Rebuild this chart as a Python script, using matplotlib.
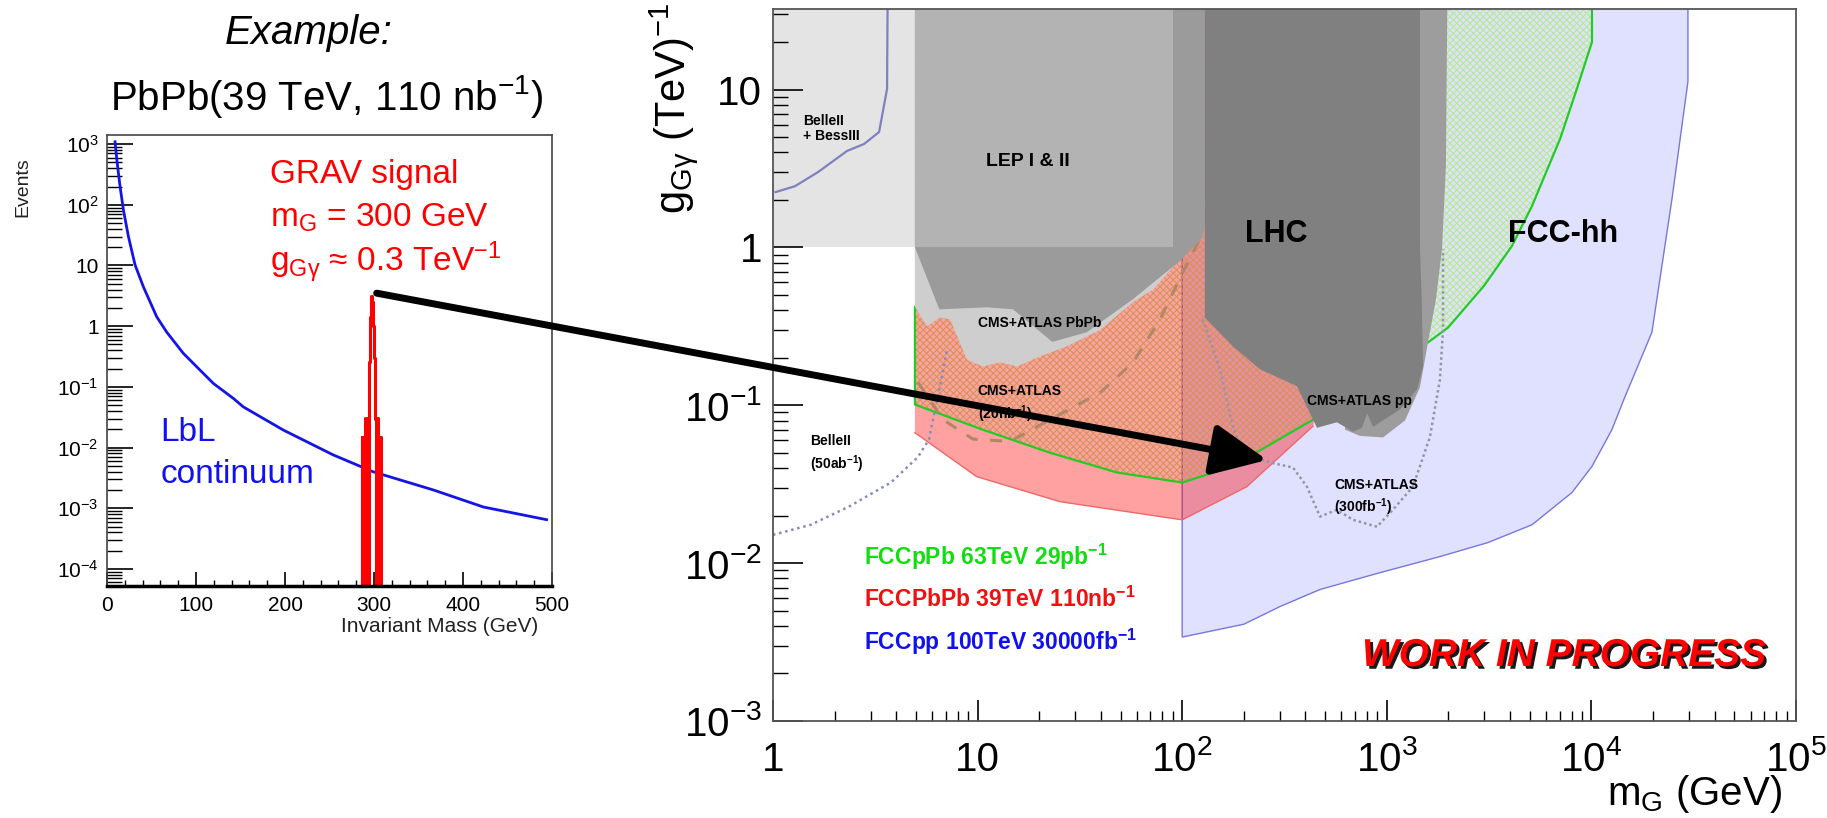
import matplotlib
matplotlib.use('Agg')
import matplotlib.pyplot as plt
import matplotlib.patheffects as pe
from matplotlib.patches import ConnectionPatch
from matplotlib.ticker import FixedLocator, LogLocator, MultipleLocator, NullFormatter

plt.rcParams['font.family'] = ['Liberation Sans', 'DejaVu Sans']
plt.rcParams['mathtext.fontset'] = 'custom'
plt.rcParams['mathtext.rm'] = 'Liberation Sans'
plt.rcParams['mathtext.it'] = 'Liberation Sans:italic'
plt.rcParams['mathtext.bf'] = 'Liberation Sans:bold'
plt.rcParams['hatch.linewidth'] = 0.7

# ---------------- left panel: PbPb 39 TeV example ----------------
lbl_mass = [9, 11, 14.6, 18.4, 24, 31.5, 40.8, 55.8, 67, 85.8, 104.5, 119.5, 142, 153,
            198, 254, 299, 367, 423, 494]
lbl_events = [1090, 545, 200, 82, 30, 10.2, 4.46, 1.43, 0.80, 0.356, 0.189, 0.114, 0.0645,
              0.047, 0.0195, 0.0076, 0.0040, 0.0020, 0.00105, 0.00065]

# graviton signal histogram (1 GeV bins, 1e-6 = empty bin)
sig_edges = [285, 286, 287, 288, 289, 290, 291, 292, 293, 294, 295, 296, 297, 298, 299,
             300, 301, 302, 303, 304, 305, 306, 307, 308, 309, 310]
sig_events = [1e-6, 0.015, 1e-6, 0.015, 1e-6, 0.031, 1e-6, 0.031, 1e-6, 0.26, 0.6, 1.4, 3.2,
              2.5, 1.0, 0.3, 0.03, 1e-6, 0.031, 1e-6, 0.015, 1e-6, 0.015, 1e-6, 1e-6, 1e-6]

left_yticks = [1e-4, 1e-3, 1e-2, 1e-1, 1, 10, 100, 1000]
left_ylabels = [r'$10^{-4}$', r'$10^{-3}$', r'$10^{-2}$', r'$10^{-1}$', '1', '10',
                r'$10^{2}$', r'$10^{3}$']

# ---------------- right panel: exclusion regions ----------------
TOP = 100  # polygons run past the frame and get clipped

belle_reg_x = [1, 4.94, 4.94, 1]
belle_reg_y = [1, 1, TOP, TOP]

lep_x = [4.94, 90, 90, 4.94]
lep_y = [1, 1, TOP, TOP]

lep_low_x = [4.94, 6.5, 11.1, 14.9, 23.2, 34.2, 57.5, 97.5, 126, 129, 129, 4.94]
lep_low_y = [1.0, 0.405, 0.417, 0.405, 0.252, 0.29, 0.47, 0.82, 1.16, 1.40, TOP, TOP]

pbpb_x = [4.94, 4.94, 5.66, 6.55, 7.33, 8.87, 10.6, 12.9, 15.6, 20.2, 27.3, 39.7, 57.5, 72,
          97.5, 126, 129]
pbpb_y = [2, 0.42, 0.316, 0.36, 0.35, 0.195, 0.176, 0.187, 0.176, 0.204, 0.236, 0.30, 0.45,
          0.54, 0.84, 1.16, 2]

lhc_x = [129, 129, 177, 240, 364, 456, 571, 684, 756, 802, 857, 1160, 1406, 1504, 1480,
         1453, 1453]
lhc_y = [TOP, 0.36, 0.236, 0.169, 0.132, 0.072, 0.078, 0.068, 0.072, 0.089, 0.073, 0.094,
         0.126, 0.176, 0.5, 1.0, TOP]

lhc_strip_x = [1453, 1991, 1946, 1862, 1740, 1590, 1453, 1227, 958, 740, 625, 625]
lhc_strip_y = [TOP, TOP, 3.27, 0.975, 0.47, 0.25, 0.13, 0.08, 0.0625, 0.064, 0.07, 0.3]

fccpp_x = [100, 100, 200, 300, 471, 926, 1820, 3125, 5130, 8040, 10070, 12600, 14430,
           19770, 24770, 29650, 29650]
fccpp_y = [TOP, 0.0034, 0.0041, 0.0053, 0.0068, 0.0087, 0.011, 0.0135, 0.0175, 0.028, 0.041,
           0.070, 0.109, 0.29, 2.02, 11.2, TOP]

fccpbpb_x = [4.94, 4.94, 9.9, 25.3, 100, 207, 436, 520, 520]
fccpbpb_y = [TOP, 0.067, 0.0353, 0.0245, 0.0188, 0.0305, 0.0737, 0.2, TOP]

fccppb_x = [4.94, 4.94, 10.6, 22.6, 48, 100, 177, 260, 436, 800, 1590, 1991, 2985, 4090,
            5130, 7030, 8410, 10070, 10070]
fccppb_y = [TOP, 0.101, 0.070, 0.05, 0.0375, 0.0324, 0.041, 0.055, 0.081, 0.15, 0.25, 0.31,
            0.57, 1.02, 1.83, 4.86, 9.7, 20, TOP]

belle_line_x = [1.03, 1.28, 1.66, 2.30, 2.79, 3.30, 3.61, 3.65]
belle_line_y = [2.24, 2.44, 3.0, 4.08, 4.52, 5.38, 10.1, TOP]

belle50_x = [1.0, 1.53, 2.35, 3.77, 5.11, 5.79, 6.05, 6.55, 7.09]
belle50_y = [0.0151, 0.0175, 0.0228, 0.0324, 0.047, 0.0607, 0.081, 0.132, 0.226]

cms20_x = [5.11, 6.78, 9.5, 14.4, 22.6, 39.7, 57.5, 77.9, 101, 122]
cms20_y = [0.14, 0.081, 0.061, 0.059, 0.081, 0.12, 0.187, 0.35, 0.70, 1.13]

cms300_x = [126, 153, 177, 198, 269, 348, 407, 472, 571, 684, 896, 1072, 1343, 1626, 1820,
            1883, 1883]
cms300_y = [0.35, 0.169, 0.073, 0.050, 0.0434, 0.0403, 0.0305, 0.0197, 0.0218, 0.0188, 0.017,
            0.0218, 0.0305, 0.063, 0.146, 0.30, 0.975]

right_yticks = [1e-3, 1e-2, 1e-1, 1, 10]
right_ylabels = [r'$10^{-3}$', r'$10^{-2}$', r'$10^{-1}$', '1', '10']
right_xticks = [1, 10, 100, 1e3, 1e4, 1e5]
right_xlabels = ['1', '10', r'$10^{2}$', r'$10^{3}$', r'$10^{4}$', r'$10^{5}$']

fig = plt.figure(figsize=(18.27, 8.18), dpi=100)
ax1 = fig.add_axes([0.0586, 0.2836, 0.2435, 0.5514])
ax2 = fig.add_axes([0.4231, 0.1186, 0.5599, 0.8704])

# ---- left panel
ax1.plot(lbl_mass, lbl_events, color='#1414e6', lw=2)
ax1.step(sig_edges, sig_events, where='post', color='red', lw=2.2)
ax1.set_yscale('log')
ax1.set_xlim(0, 500)
ax1.set_ylim(10**-4.28, 10**3.15)
ax1.yaxis.set_major_locator(FixedLocator(left_yticks))
ax1.set_yticklabels(left_ylabels)
ax1.yaxis.set_minor_locator(LogLocator(base=10, subs=[2, 3, 4, 5, 6, 7, 8, 9], numticks=20))
ax1.yaxis.set_minor_formatter(NullFormatter())
ax1.xaxis.set_major_locator(MultipleLocator(100))
ax1.xaxis.set_minor_locator(MultipleLocator(20))
ax1.tick_params(axis='y', which='major', direction='in', length=19, width=1.2, labelsize=15, pad=6)
ax1.tick_params(axis='y', which='minor', direction='in', length=10.5, width=1.0)
ax1.tick_params(axis='x', which='major', direction='in', length=10, width=1.2, labelsize=15, pad=7)
ax1.tick_params(axis='x', which='minor', direction='in', length=4.5, width=1.0)
for s in ax1.spines.values():
    s.set_color('#444444')
    s.set_linewidth(1.2)
ax1.spines['bottom'].set_linewidth(2.5)
ax1.spines['bottom'].set_color('black')

fig.text(538 / 1827, 1 - 627 / 818, 'Invariant Mass (GeV)', ha='right', va='center',
         fontsize=15, color='#222222')
fig.text(23 / 1827, 1 - 157 / 818, 'Events', rotation=90, ha='center', va='top',
         fontsize=14, color='#222222')
fig.text(309 / 1827, 1 - 33 / 818, 'Example:', ha='center', va='center', fontsize=29,
         style='italic')
fig.text(327 / 1827, 1 - 96 / 818, r'PbPb(39 TeV, 110 nb$^{\mathregular{-1}}$)', ha='center',
         va='center', fontsize=29)

ax1.text(183, 310, 'GRAV signal', color='red', fontsize=24, va='center')
ax1.text(183, 60, r'm$_{\mathregular{G}}$ = 300 GeV', color='red', fontsize=24, va='center')
ax1.text(183, 11, r'g$_{\mathregular{G\gamma}}$ ≈ 0.3 TeV$^{\mathregular{-1}}$', color='red',
         fontsize=24, va='center')
ax1.text(60, 0.018, 'LbL', color='#1010f0', fontsize=24, va='center')
ax1.text(60, 0.0036, 'continuum', color='#1010f0', fontsize=24, va='center')

# ---- right panel
ax2.fill(belle_reg_x, belle_reg_y, color='#e4e4e4', lw=0, zorder=1)
ax2.fill(fccpp_x, fccpp_y, facecolor=(0.0, 0.0, 1.0, 0.12), edgecolor='#7777dd', lw=1.0,
         zorder=2)
# pPb hatch sits under the transparent PbPb fill, which turns it orange
ax2.fill(fccppb_x, fccppb_y, facecolor='none', edgecolor='#b2ec86', hatch='xxxxx', lw=0,
         zorder=2.5)
ax2.fill(fccpbpb_x, fccpbpb_y, facecolor=(1.0, 0.0, 0.0, 0.37), lw=0, zorder=3)
ax2.plot(fccpbpb_x[1:-2], fccpbpb_y[1:-2], color='#ee6666', lw=1.0, zorder=3)
ax2.plot([fccppb_x[0]] + fccppb_x[1:], [pbpb_y[1]] + fccppb_y[1:], color='#22cc22',
         lw=1.6, zorder=4)

ax2.plot(belle_line_x, belle_line_y, color='#8080c0', lw=1.6, zorder=5)
ax2.plot(belle50_x, belle50_y, color='#8a8ab8', lw=1.8, ls=(0, (1, 1.5)), zorder=5)
ax2.plot(cms20_x, cms20_y, color='#b08866', lw=2.2, ls=(0, (4, 4)), zorder=5)
ax2.plot(cms300_x, cms300_y, color='#9494a6', lw=1.8, ls=(0, (1, 1.2)), zorder=5)

ax2.fill(pbpb_x, pbpb_y, color='#cecece', lw=0, zorder=6)
ax2.fill(lep_low_x, lep_low_y, color='#9b9b9b', lw=0, zorder=7)
ax2.fill(lep_x, lep_y, color='#b3b3b3', lw=0, zorder=8)
ax2.fill(lhc_strip_x, lhc_strip_y, color='#9d9d9d', lw=0, zorder=9)
ax2.fill(lhc_x, lhc_y, color='#808080', lw=0, zorder=10)

ax2.set_xscale('log')
ax2.set_yscale('log')
ax2.set_xlim(1, 1e5)
ax2.set_ylim(1e-3, 10**1.51)
ax2.xaxis.set_major_locator(FixedLocator(right_xticks))
ax2.set_xticklabels(right_xlabels)
ax2.yaxis.set_major_locator(FixedLocator(right_yticks))
ax2.set_yticklabels(right_ylabels)
for a in (ax2.xaxis, ax2.yaxis):
    a.set_minor_locator(LogLocator(base=10, subs=[2, 3, 4, 5, 6, 7, 8, 9], numticks=20))
    a.set_minor_formatter(NullFormatter())
ax2.tick_params(axis='y', which='major', direction='in', length=21.5, width=1.2, labelsize=29,
                pad=8)
ax2.tick_params(axis='y', which='minor', direction='in', length=10.5, width=1.0)
ax2.tick_params(axis='x', which='major', direction='in', length=15, width=1.2, labelsize=29,
                pad=36)
ax2.tick_params(axis='x', which='minor', direction='in', length=7.5, width=1.0)
for lab in ax2.get_xticklabels():
    lab.set_va('baseline')
for s in ax2.spines.values():
    s.set_color('#555555')
    s.set_linewidth(1.3)
    s.set_zorder(20)

fig.text(673 / 1827, 1 - 2 / 818, r'g$_{\mathregular{G\gamma}}$ (TeV)$^{\mathregular{-1}}$',
         rotation=90, ha='center', va='top', fontsize=30)
fig.text(1782 / 1827, 1 - 815 / 818, r'm$_{\mathregular{G}}$ (GeV)', ha='right',
         va='bottom', fontsize=29)

bold = dict(fontweight='bold', zorder=15)
ax2.text(1.40, 7.0, 'BelleII\n+ BessIII', fontsize=10, va='top', ha='left',
         linespacing=1.1, **bold)
ax2.text(17.6, 3.48, 'LEP I & II', fontsize=14, ha='center', va='center', **bold)
ax2.text(287, 1.21, 'LHC', fontsize=22, ha='center', va='center', **bold)
ax2.text(7260, 1.21, 'FCC-hh', fontsize=22, ha='center', va='center', **bold)
ax2.text(10.0, 0.33, 'CMS+ATLAS PbPb', fontsize=10, ha='left', va='center', **bold)
ax2.text(10.0, 0.1355, 'CMS+ATLAS\n(20nb$^{\\mathbf{-1}}$)', fontsize=10, ha='left', va='top',
         linespacing=1.3, **bold)
ax2.text(407, 0.107, 'CMS+ATLAS pp', fontsize=10, ha='left', va='center', **bold)
ax2.text(1.52, 0.0654, 'BelleII\n(50ab$^{\\mathbf{-1}}$)', fontsize=10, ha='left', va='top',
         linespacing=1.3, **bold)
ax2.text(552, 0.0348, 'CMS+ATLAS\n(300fb$^{\\mathbf{-1}}$)', fontsize=10, ha='left', va='top',
         linespacing=1.3, **bold)
ax2.text(2.8, 0.011, 'FCCpPb 63TeV 29pb$^{\\mathbf{-1}}$', fontsize=16.5, color='#11dd11',
         ha='left', va='center', **bold)
ax2.text(2.8, 0.00586, 'FCCPbPb 39TeV 110nb$^{\\mathbf{-1}}$', fontsize=16.5, color='#ee1111',
         ha='left', va='center', **bold)
ax2.text(2.8, 0.00317, 'FCCpp 100TeV 30000fb$^{\\mathbf{-1}}$', fontsize=16.5, color='#1111ee',
         ha='left', va='center', **bold)
ax2.text(71300, 0.00258, 'WORK IN PROGRESS', fontsize=28, color='#ff0000', style='italic',
         ha='right', va='center',
         path_effects=[pe.SimplePatchShadow(offset=(2, -2), shadow_rgbFace='black', alpha=0.9),
                       pe.Normal()], **bold)

# arrow from the signal peak to its point in the exclusion plane
con = ConnectionPatch(xyA=(303, 3.5), coordsA='data', axesA=ax1,
                      xyB=(260, 0.045), coordsB='data', axesB=ax2,
                      arrowstyle='-|>,head_length=1.4,head_width=0.65', mutation_scale=24,
                      lw=5, color='black', shrinkA=0, shrinkB=0, zorder=30)
fig.add_artist(con)

fig.savefig('out.png', dpi=100)
